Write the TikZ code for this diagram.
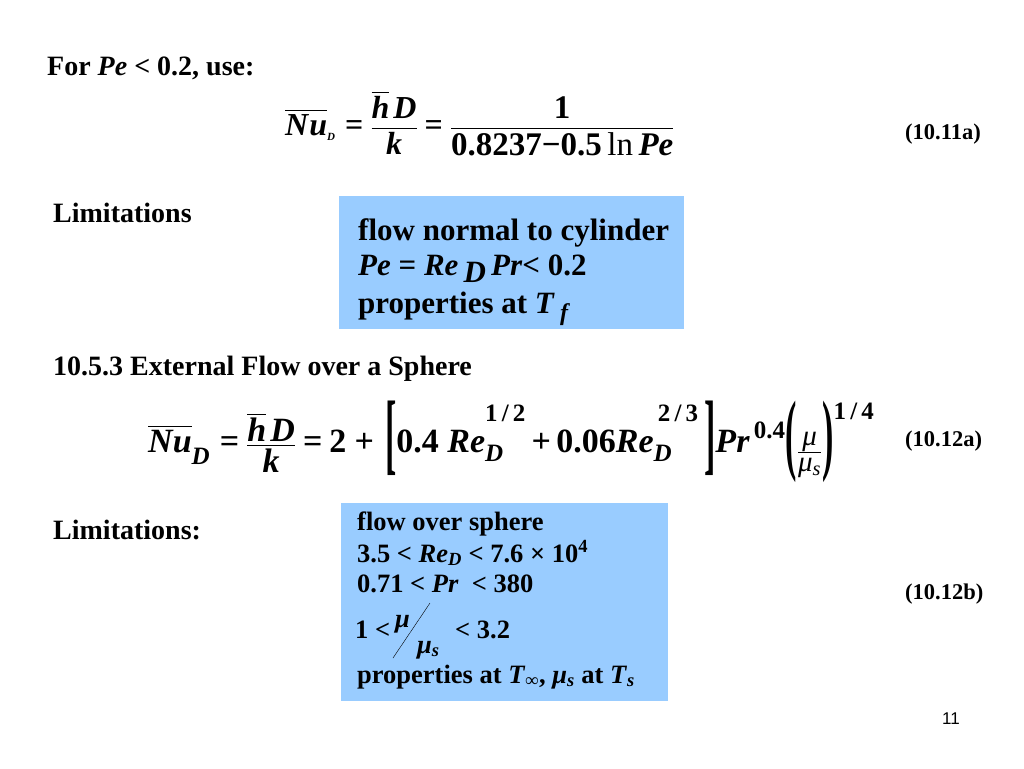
\documentclass[tikz,border=0pt]{standalone}
\usepackage{amsmath}
\usepackage{fontspec}
\setmainfont{Liberation Serif}
\newfontfamily\arialfont{Liberation Sans}
\definecolor{boxblue}{RGB}{153,204,255}
\newcommand\vr[1]{\textit{#1}}
\newcommand\req{\mathrel{\text{=}}}
\newcommand\rpl{\mathbin{\text{+}}}
\newcommand\bigdel[1]{\raisebox{-0.35em}{\scalebox{1}[2.65]{#1}}}
\newcommand\scr[2][0pt]{\text{\fontsize{25}{25}\selectfont\raisebox{#1}{#2}}}
\newcommand\mufr[1]{\text{\fontsize{29}{29}\selectfont\mdseries #1}}

\begin{document}
\begin{tikzpicture}[x=1pt, y=-1pt,
every node/.style={inner sep=0pt, anchor=base west},
head/.style={font=\fontsize{28}{32}\selectfont\bfseries},
eqn/.style={font=\fontsize{32}{38}\selectfont\bfseries},
eqnum/.style={font=\fontsize{22.5}{26}\selectfont\bfseries},
cyltxt/.style={font=\fontsize{31}{36}\selectfont\bfseries},
sphtxt/.style={font=\fontsize{26.5}{30}\selectfont\bfseries},
limbox/.style={fill=boxblue, anchor=north west},
]
\useasboundingbox (0,0) rectangle (1024,768);

\node[head] (forpe) at (47,75) {For \vr{Pe} < 0.2, use:};
\node[eqn] (eqcyl) at (285,135) {$\overline{\text{\vr{N}}}\overline{\text{\vr{u}}\vphantom{\text{\vr{N}}}}_{\text{\fontsize{11}{11}\selectfont\raisebox{-2pt}{\vr{D}}}} \mkern2mu\req \dfrac{\overline{\text{\vr{h}}}\,\text{\vr{D}}}{\text{\vr{k}}} \req \dfrac{\text{\fontsize{33}{33}\selectfont 1}}{\text{\fontsize{33}{33}\selectfont 0.8237−0.5\,{\mdseries ln}\,\vr{Pe}}}$};
\node[eqnum] (numa) at (905,139) {(10.11a)};

\node[head] (limcyl) at (53,222) {Limitations};
\node[limbox, minimum width=345, minimum height=133] (cylbox) at (339,196) {};
\node[cyltxt] (cyla) at (358,240) {flow normal to cylinder};
\node[cyltxt] (cylb) at (358,275) {\vr{Pe} = \vr{Re}\,\raisebox{-0.25em}{\vr{D}}\,\vr{Pr}< 0.2};
\node[cyltxt] (cylc) at (358,313) {properties at \vr{T}\,\raisebox{-0.25em}{\fontsize{24}{24}\selectfont\vr{f}}};

\node[head] (sphhead) at (53,375) {10.5.3 External Flow over a Sphere};
\node[eqn, font=\fontsize{34}{40}\selectfont\bfseries] (eqsph) at (148,452) {$\overline{\text{\vr{Nu}}}_{\scr[-9pt]{\vr{D}}} \mkern2mu\req \dfrac{\raisebox{-6pt}{$\overline{\text{\vr{h}}}\,\text{\vr{D}}$}}{\text{\vr{k}}} \req \text{2} \mkern2mu\rpl\mkern4mu \text{\bigdel{[}0.4\ } \text{\vr{Re}}^{\scr[18pt]{1\,/\,2}}_{\scr[-3pt]{\vr{D}}} \rpl \text{0.06\vr{Re}}^{\scr[18pt]{\,2\,/\,3}}_{\scr[-3pt]{\vr{D}}} \mkern4mu\text{\bigdel{]}} \text{\vr{Pr}}^{\scr[1pt]{\,0.4}} \text{\bigdel{(}\raisebox{-7pt}{$\genfrac{}{}{1pt}{1}{\mufr{\raisebox{2pt}{\vr{μ}}}}{\mufr{\raisebox{-4pt}{\vr{μ}\textsubscript{\vr{s}}}}}$}\bigdel{)}}^{\scr[-9pt]{1\,/\,4}}$};
\node[eqnum] (numb) at (905,446) {(10.12a)};

\node[head] (limsph) at (53,539) {Limitations:};
\node[limbox, minimum width=327, minimum height=198] (sphbox) at (341,503) {};
\node[sphtxt] (spha) at (357,530) {flow over sphere};
\node[sphtxt] (sphb) at (357,562) {3.5 < \vr{Re}\textsubscript{\vr{D}} < 7.6 × 10\textsuperscript{4}};
\node[sphtxt] (sphc) at (357,592) {0.71 < \vr{Pr}\ \ < 380};
\node[sphtxt] (sphd) at (355,638) {1 <};
\node[sphtxt] (mutop) at (395,627) {\vr{μ}};
\node[sphtxt] (mubot) at (417,653) {\vr{μ}\textsubscript{\vr{s}}};
\draw[thin] (393,658) -- (430,603);
\node[sphtxt] (sphe) at (455,638) {< 3.2};
\node[sphtxt] (sphf) at (357,683) {properties at \vr{T}\textsubscript{∞}, \vr{μ}\textsubscript{\vr{s}} at \vr{T}\textsubscript{\vr{s}}};
\node[eqnum] (numc) at (905,599) {(10.12b)};

\node[font=\arialfont\fontsize{17}{20}\selectfont, anchor=base] (pagenum) at (951,724) {11};
\end{tikzpicture}
\end{document}
